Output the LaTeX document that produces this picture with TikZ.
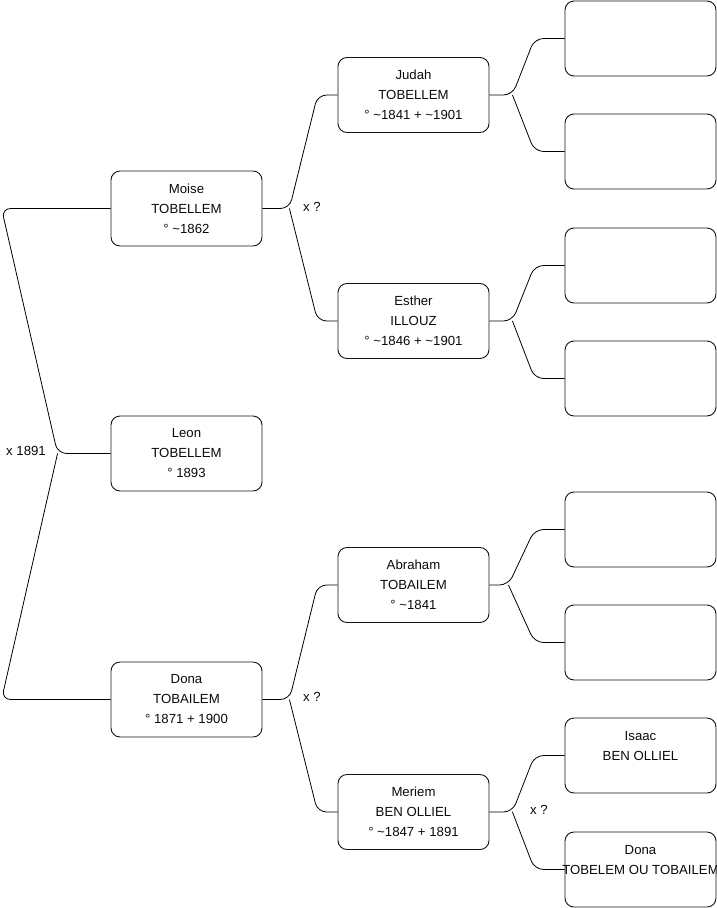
\documentclass[tikz,border=0pt]{standalone}
\usepackage{fontspec}
\setmainfont{Liberation Sans}
\usepackage{tikz}
\usetikzlibrary{calc}
\definecolor{boxcol}{RGB}{20,20,20}
\definecolor{txtcol}{RGB}{10,10,10}

\tikzset{
  person/.style={draw=boxcol, line width=0.9pt, rounded corners=9pt,
    minimum width=151pt, minimum height=75pt, align=center, text=txtcol,
    inner sep=2pt, font=\fontsize{13.2}{20}\selectfont},
  fork/.style={draw=black, line width=0.8pt, rounded corners=9pt},
  marr/.style={text=txtcol, font=\fontsize{13.2}{15}\selectfont}
}

\begin{document}
\begin{tikzpicture}[x=1pt, y=-1pt]
    \useasboundingbox (0,0) rectangle (716,908);

    %% Generation 1
    \node[person] (leon) at (186.5,453.5) {Leon\\TOBELLEM\\° 1893};

    %% Generation 2
    \node[person] (moise) at (186.5,208.5) {Moise\\TOBELLEM\\° \textasciitilde1862};
    \node[person] (dona) at (186.5,699.5) {Dona\\TOBAILEM\\° 1871 + 1900};

    %% Generation 3
    \node[person] (judah) at (413.5,95) {Judah\\TOBELLEM\\° \textasciitilde1841 + \textasciitilde1901};
    \node[person] (esther) at (413.5,321) {Esther\\ILLOUZ\\° \textasciitilde1846 + \textasciitilde1901};
    \node[person] (abraham) at (413.5,585) {Abraham\\TOBAILEM\\° \textasciitilde1841};
    \node[person] (meriem) at (413.5,812) {Meriem\\BEN OLLIEL\\° \textasciitilde1847 + 1891};

    %% Generation 4
    \node[person] (judahf) at (640.5,38.5) {};
    \node[person] (judahm) at (640.5,151.5) {};
    \node[person] (estherf) at (640.5,265.5) {};
    \node[person] (estherm) at (640.5,378.5) {};
    \node[person] (abrahamf) at (640.5,529.5) {};
    \node[person] (abrahamm) at (640.5,642.5) {};
    \node[person] (isaac) at (640.5,755.5) {Isaac\\BEN OLLIEL\\\mbox{}};
    \node[person] (donab) at (640.5,869.5)
      {Dona\\\makebox[0pt]{TOBELEM OU TOBAILEM}\\\mbox{}};

    %% Fork points
    \coordinate (f0) at ([xshift=-53]leon.west);
    \coordinate (f1) at ([xshift=27]moise.east);
    \coordinate (f2) at ([xshift=27]dona.east);
    \coordinate (f3) at ([xshift=23]judah.east);
    \coordinate (f4) at ([xshift=23]esther.east);
    \coordinate (f5) at ([xshift=19]abraham.east);
    \coordinate (f6) at ([xshift=23]meriem.east);

    %% Parents of Leon
    \draw[fork] (moise.west) -- ([xshift=-109]moise.west) -- (f0) -- (leon.west);
    \draw[fork] (f0) -- ([xshift=-109]dona.west) -- (dona.west);
    \node[marr] (m0) at (26,451) {x 1891};

    %% Parents of Moise
    \draw[fork] (moise.east) -- (f1) -- ([xshift=-20]judah.west) -- (judah.west);
    \draw[fork] (f1) -- ([xshift=-20]esther.west) -- (esther.west);
    \node[marr] (m1) at (312,207) {x ?};

    %% Parents of Dona
    \draw[fork] (dona.east) -- (f2) -- ([xshift=-20]abraham.west) -- (abraham.west);
    \draw[fork] (f2) -- ([xshift=-20]meriem.west) -- (meriem.west);
    \node[marr] (m2) at (312,697) {x ?};

    %% Parents of Judah, Esther, Abraham
    \draw[fork] (judah.east) -- (f3) -- ([xshift=-30]judahf.west) -- (judahf.west);
    \draw[fork] (f3) -- ([xshift=-30]judahm.west) -- (judahm.west);
    \draw[fork] (esther.east) -- (f4) -- ([xshift=-30]estherf.west) -- (estherf.west);
    \draw[fork] (f4) -- ([xshift=-30]estherm.west) -- (estherm.west);
    \draw[fork] (abraham.east) -- (f5) -- ([xshift=-30]abrahamf.west) -- (abrahamf.west);
    \draw[fork] (f5) -- ([xshift=-30]abrahamm.west) -- (abrahamm.west);

    %% Parents of Meriem
    \draw[fork] (meriem.east) -- (f6) -- ([xshift=-30]isaac.west) -- (isaac.west);
    \draw[fork] (f6) -- ([xshift=-30]donab.west) -- (donab.west);
    \node[marr] (m3) at (539,810) {x ?};

\end{tikzpicture}
\end{document}
